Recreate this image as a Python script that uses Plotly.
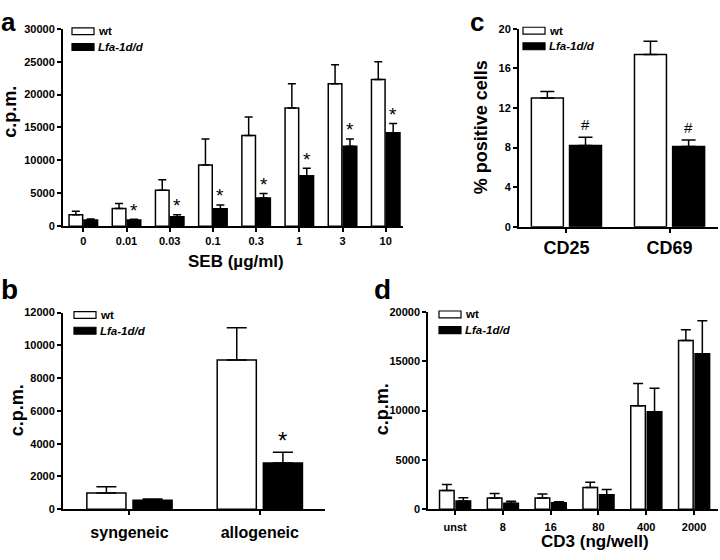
import plotly.graph_objects as go

# ---------------- data ----------------
seb_doses = ["0", "0.01", "0.03", "0.1", "0.3", "1", "3", "10"]
seb_wt = [1750, 2700, 5450, 9300, 13800, 17950, 21650, 22300]
seb_wt_err = [500, 750, 1600, 3950, 2800, 3700, 2900, 2700]
seb_ko = [950, 950, 1450, 2650, 4300, 7650, 12150, 14200]
seb_ko_err = [150, 100, 300, 550, 650, 1150, 1100, 1400]
seb_sig = [False, True, True, True, True, True, True, True]

mixed = ["syngeneic", "allogeneic"]
mixed_wt = [1000, 9100]
mixed_wt_err = [370, 1970]
mixed_ko = [550, 2830]
mixed_ko_err = [80, 650]
mixed_sig = [False, True]

markers = ["CD25", "CD69"]
marker_wt = [13.0, 17.4]
marker_wt_err = [0.65, 1.35]
marker_ko = [8.2, 8.1]
marker_ko_err = [0.85, 0.65]
marker_sig = [True, True]

cd3_doses = ["unst", "8", "16", "80", "400", "2000"]
cd3_wt = [1900, 1150, 1150, 2200, 10500, 17100]
cd3_wt_err = [600, 450, 400, 550, 2250, 1100]
cd3_ko = [850, 620, 650, 1480, 9880, 15770]
cd3_ko_err = [330, 200, 120, 530, 2400, 3340]

W, H = 720, 560
FONT = "Liberation Sans, Arial, Helvetica, sans-serif"


def px(x):
    return x / W


def py(y):
    return 1 - y / H


fig = go.Figure()
annotations = []
shapes = []


def add_panel(idx, cats, wt, wt_err, ko, ko_err, sig, sig_text, sig_off, sig_size,
              w, g, capw, xdom, ydom, xr, yr, dtick, tickfs, catfs, standoff=0):
    xa = "x" if idx == 1 else f"x{idx}"
    ya = "y" if idx == 1 else f"y{idx}"
    pos = list(range(len(cats)))
    fig.add_trace(go.Bar(
        x=pos, y=wt, width=w, offset=-w - g / 2,
        marker=dict(color="white", line=dict(color="black", width=1.5)),
        error_y=dict(type="data", array=wt_err, arrayminus=[0] * len(wt), symmetric=False,
                     color="black", thickness=1.5, width=capw),
        xaxis=xa, yaxis=ya, showlegend=False, name="wt"))
    fig.add_trace(go.Bar(
        x=pos, y=ko, width=w, offset=g / 2,
        marker=dict(color="black", line=dict(color="black", width=1.5)),
        error_y=dict(type="data", array=ko_err, arrayminus=[0] * len(ko), symmetric=False,
                     color="black", thickness=1.5, width=capw),
        xaxis=xa, yaxis=ya, showlegend=False, name="Lfa-1d/d"))
    for i, s in enumerate(sig):
        if s:
            annotations.append(dict(
                x=i + g / 2 + w / 2, y=ko[i] + ko_err[i] + sig_off, xref=xa, yref=ya,
                text=sig_text, showarrow=False, yanchor="middle",
                font=dict(family=FONT, size=sig_size, color="black")))
    axkey_x = "xaxis" if idx == 1 else f"xaxis{idx}"
    axkey_y = "yaxis" if idx == 1 else f"yaxis{idx}"
    fig.update_layout(**{
        axkey_x: dict(domain=xdom, range=xr, anchor=ya, tickvals=pos, ticktext=cats,
                      showline=True, linecolor="black", linewidth=2, ticks="outside",
                      ticklen=4, tickwidth=1.5, tickcolor="black", showgrid=False,
                      zeroline=False, fixedrange=True, ticklabelstandoff=standoff,
                      tickfont=dict(family=FONT, size=catfs, color="black", weight="bold")),
        axkey_y: dict(domain=ydom, range=yr, anchor=xa, dtick=dtick, tick0=0, tickformat="d",
                      showline=True, linecolor="black", linewidth=2, ticks="outside",
                      ticklen=4, tickwidth=1.5, tickcolor="black", showgrid=False,
                      zeroline=False, fixedrange=True,
                      tickfont=dict(family=FONT, size=tickfs, color="black", weight="bold")),
    })


# panel a
add_panel(1, seb_doses, seb_wt, seb_wt_err, seb_ko, seb_ko_err, seb_sig, "*", 1400, 19,
          0.315, 0.03, 4, [px(63), px(403)], [py(225), py(23.3)], [-0.47, 7.4], [0, 30000],
          5000, 11, 11)
# panel c
add_panel(2, markers, marker_wt, marker_wt_err, marker_ko, marker_ko_err, marker_sig, "#", 1.3, 15,
          0.31, 0.06, 7, [px(519), px(718)], [py(225.5), py(23.3)], [-0.46, 1.47], [0, 20],
          4, 11, 18)
# panel b
add_panel(3, mixed, mixed_wt, mixed_wt_err, mixed_ko, mixed_ko_err, mixed_sig, "*", 700, 24,
          0.30, 0.054, 10, [px(63), px(325)], [py(514.3), py(313.3)], [-0.51, 1.5], [0, 12000],
          2000, 11, 16, standoff=4)
# panel d
add_panel(4, cd3_doses, cd3_wt, cd3_wt_err, cd3_ko, cd3_ko_err, [False] * 6, "*", 0, 16,
          0.305, 0.04, 5, [px(428.3), px(718)], [py(514.3), py(312.7)], [-0.56, 5.5], [0, 20000],
          5000, 11, 11, standoff=3)


def text_ann(x, y, text, size, angle=0, xanchor="center", yanchor="middle", pad=1):
    annotations.append(dict(x=px(x), y=py(y), xref="paper", yref="paper", text=text,
                            showarrow=False, textangle=angle, xanchor=xanchor, yanchor=yanchor,
                            borderpad=pad,
                            font=dict(family=FONT, size=size, color="black", weight="bold")))


# axis titles
text_ann(10, 108, "c.p.m.", 18, angle=-90)
text_ann(236, 261, "SEB (µg/ml)", 17)
text_ann(481, 124, "% positive cells", 18, angle=-90)
text_ann(17, 413, "c.p.m.", 18, angle=-90)
text_ann(382, 412, "c.p.m.", 18, angle=-90)
text_ann(595, 547, "CD3 (ng/well)", 17)

# panel letters
text_ann(0, 0, "a", 26, xanchor="left", yanchor="top", pad=0)
text_ann(469, 0, "c", 26, xanchor="left", yanchor="top", pad=0)
text_ann(-1, 290, "b", 28, xanchor="left")
text_ann(372, 290, "d", 28, xanchor="left")


# legends
def legend(x0, y0):
    shapes.append(dict(type="rect", xref="paper", yref="paper", x0=px(x0), x1=px(x0 + 22),
                       y0=py(y0), y1=py(y0 + 7), fillcolor="white",
                       line=dict(color="black", width=1.2)))
    shapes.append(dict(type="rect", xref="paper", yref="paper", x0=px(x0), x1=px(x0 + 22),
                       y0=py(y0 + 16), y1=py(y0 + 23), fillcolor="black",
                       line=dict(color="black", width=1.2)))
    text_ann(x0 + 24, y0 + 3.5, "wt", 11.5, xanchor="left")
    text_ann(x0 + 24, y0 + 19.5, "<i>Lfa-1d/d</i>", 11.5, xanchor="left")


legend(72, 22.3)
legend(523, 21.7)
legend(74, 312.3)
legend(439, 311.7)

fig.update_layout(
    width=W, height=H, margin=dict(l=0, r=0, t=0, b=0),
    paper_bgcolor="white", plot_bgcolor="white",
    barmode="group", showlegend=False,
    annotations=annotations, shapes=shapes,
    font=dict(family=FONT, color="black"),
)

fig.write_html("out.html", config={"displayModeBar": False},
               post_script="document.body.style.margin='0';document.body.style.overflow='hidden';")
